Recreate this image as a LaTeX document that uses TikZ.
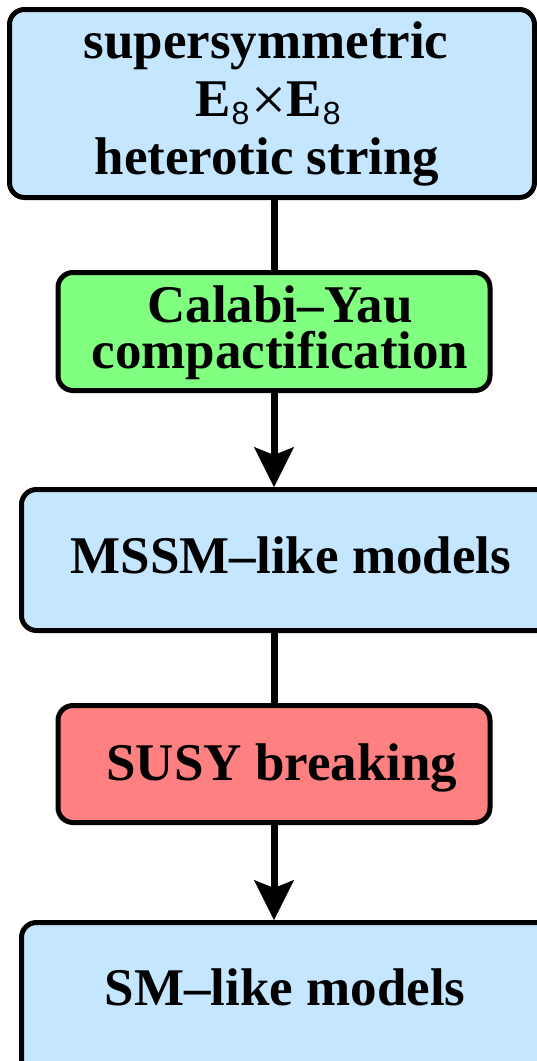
\documentclass[tikz,border=0pt]{standalone}
\usepackage{fontspec}
\setmainfont{Liberation Serif}
\newfontfamily\subsans{Liberation Sans}
\usetikzlibrary{arrows.meta}

\definecolor{boxblue}{RGB}{196,230,255}
\definecolor{boxgreen}{RGB}{128,255,128}
\definecolor{boxred}{RGB}{255,128,128}

% E_8 with a sans-serif subscript
\newcommand{\Eeight}{\textbf{E}\kern1pt\raisebox{-8pt}{\subsans\mdseries\fontsize{32}{32}\selectfont 8}}
\newcommand{\cross}{\raisebox{-4pt}{\mdseries\fontsize{62}{62}\selectfont ×}}

\tikzset{
  stage/.style={draw=black, line width=5pt, rounded corners=15pt, inner sep=0pt},
  lbl/.style={inner sep=0pt, anchor=base, text height=34pt, text depth=9pt,
    font=\bfseries\fontsize{53}{53}\selectfont},
  block/.style={inner sep=0pt, align=center, font=\bfseries\fontsize{53}{46}\selectfont},
  conn/.style={line width=7pt, draw=black},
  flow/.style={conn, -{Stealth[length=40pt, width=40pt, inset=8pt, line width=0.5pt]}}
}

\begin{document}
\begin{tikzpicture}[x=1pt, y=-1pt]
\useasboundingbox (0,0) rectangle (537,1061);
\clip (0,0) rectangle (537,1061);

% boxes
\node[stage, fill=boxblue, minimum width=525pt, minimum height=188pt] (top) at (272,103.5) {};
\node[stage, fill=boxgreen, minimum width=432pt, minimum height=118pt] (cy) at (274,331.5) {};
\node[stage, fill=boxblue, minimum width=540pt, minimum height=141pt] (mssm) at (291.5,560) {};
\node[stage, fill=boxred, minimum width=432pt, minimum height=117pt] (susy) at (274,764) {};
\node[stage, fill=boxblue, minimum width=540pt, minimum height=162pt] (sm) at (291.5,1003.5) {};

% connectors
\draw[conn] (cy.north |- top.south) -- (cy.north);
\draw[flow] (cy.south) -- (cy.south |- mssm.north);
\draw[conn] (susy.north |- mssm.south) -- (susy.north);
\draw[flow] (susy.south) -- (susy.south |- sm.north);

% labels
\node[lbl] (t1) at (266,58) {supersymmetric};
\node[lbl] (t2) at (268,116) {\Eeight\kern2pt\cross\kern0pt\Eeight};
\node[lbl] (t3) at (267,174) {heterotic string};
\node[block] (c1) at (280,333) {Calabi–Yau\\compactification};
\node[lbl] (m1) at (291,573) {MSSM–like models};
\node[lbl] (s1) at (282,780) {SUSY breaking};
\node[lbl] (s2) at (285,1005) {SM–like models};
\end{tikzpicture}
\end{document}
